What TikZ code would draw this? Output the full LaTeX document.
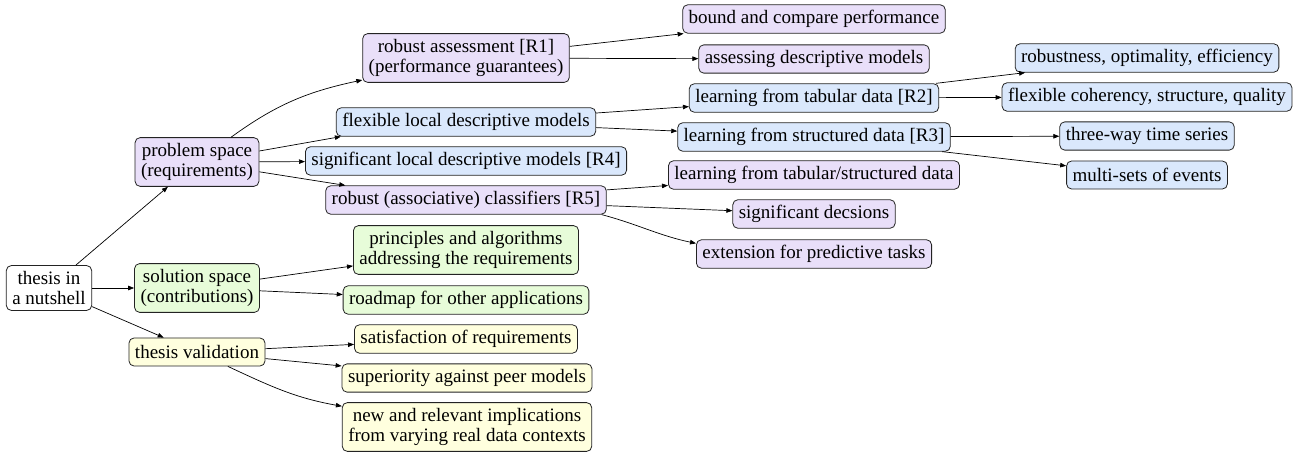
\documentclass[tikz,border=0pt]{standalone}
\usepackage{fontspec}
\setmainfont{Liberation Serif}
\usetikzlibrary{arrows.meta}

\begin{document}
\begin{tikzpicture}[x=1pt,y=1pt, every node/.style={font=\fontsize{19}{20.5}\selectfont},
  box/.style={draw={rgb,255:red,35; green,35; blue,35}, line width=0.8pt, rounded corners=5pt, inner xsep=6pt, inner ysep=5.5pt, minimum height=28pt, align=center},
  root/.style={box, fill=white},
  req/.style={box, fill={rgb,255:red,233; green,223; blue,249}},
  model/.style={box, fill={rgb,255:red,218; green,232; blue,252}},
  contrib/.style={box, fill={rgb,255:red,231; green,252; blue,217}},
  valid/.style={box, fill={rgb,255:red,255; green,255; blue,222}},
  link/.style={line width=0.7pt, -{Triangle[length=6pt,width=4.5pt]}}]
\useasboundingbox (0,0) rectangle (1307,-454);

% Text Node
\node[root] (thesis) at (49,-288) {thesis in\\a nutshell};
% Text Node
\node[req] (prob) at (197,-162) {problem space\\(requirements)};
\node[contrib] (sol) at (197,-288) {solution space\\(contributions)};
\node[valid] (val) at (197,-352) {thesis validation};

% Text Node
\node[req] (assess) at (466,-58) {robust assessment [R1]\\(performance guarantees)};
\node[model] (flex) at (466,-122) {flexible local descriptive models};
\node[model] (signif) at (466,-161) {significant local descriptive models [R4]};
\node[req] (classif) at (466,-200) {robust (associative) classifiers [R5]};
\node[contrib] (princ) at (466,-250) {principles and algorithms\\addressing the requirements};
\node[contrib] (roadmap) at (466,-300) {roadmap for other applications};
\node[valid] (satis) at (466,-339) {satisfaction of requirements};
\node[valid] (superior) at (467,-378) {superiority against peer models};
\node[valid] (implic) at (467,-427) {new and relevant implications\\from varying real data contexts};

% Text Node
\node[req] (bound) at (814,-19) {bound and compare performance};
\node[req] (assdesc) at (814,-59) {assessing descriptive models};
\node[model] (tabular) at (814,-98) {learning from tabular data [R2]};
\node[model] (struct) at (814,-137) {learning from structured data [R3]};
\node[req] (tabstruct) at (814,-175) {learning from tabular/structured data};
\node[req] (sigdec) at (814,-214) {significant decsions};
\node[req] (predict) at (814,-254) {extension for predictive tasks};

% Text Node
\node[model] (robopt) at (1147,-58) {robustness, optimality, efficiency};
\node[model] (cohere) at (1147,-97) {flexible coherency, structure, quality};
\node[model] (threeway) at (1147,-136) {three-way time series};
\node[model] (multiset) at (1147,-175) {multi-sets of events};

% Connection
\draw[link] (thesis) -- (prob);
\draw[link] (thesis) -- (sol);
\draw[link] (thesis) -- (val);
% Connection
\draw[link] (prob) to[out=36,in=192] (assess);
\draw[link] (prob) -- ([xshift=5pt]flex.south west);
\draw[link] (prob) -- (signif);
\draw[link] (prob) -- ([xshift=20pt]classif.north west);
\draw[link] (sol) -- (princ);
\draw[link] (sol) -- (roadmap);
\draw[link] (val) -- (satis);
\draw[link] (val) -- (superior);
\draw[link] (val) to[out=-25,in=170] ([yshift=-4pt]implic.north west);
% Connection
\draw[link] (assess) -- (bound);
\draw[link] (assess) -- (assdesc);
\draw[link] (flex) -- (tabular);
\draw[link] (flex) -- (struct);
\draw[link] (classif) -- (tabstruct);
\draw[link] (classif) -- (sigdec);
\draw[link] ([xshift=-5pt]classif.south east) to[out=-15,in=168] ([yshift=-4pt]predict.north west);
% Connection
\draw[link] (tabular) -- (robopt);
\draw[link] (tabular) -- (cohere);
\draw[link] (struct) -- (threeway);
\draw[link] (struct) -- (multiset);
\end{tikzpicture}
\end{document}
